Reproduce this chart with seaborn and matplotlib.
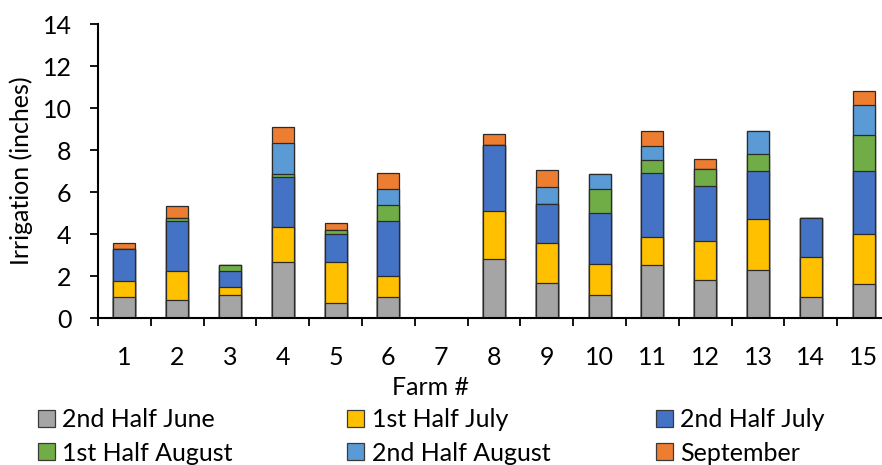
import numpy as np
import pandas as pd
import matplotlib
matplotlib.use("Agg")
import matplotlib.pyplot as plt
from matplotlib.patches import Patch
from matplotlib.ticker import FixedLocator
import seaborn as sns

# Irrigation applied per farm, by period (inches)
farms = [str(i) for i in range(1, 16)]
june_2nd = [1.00, 0.84, 1.11, 2.67, 0.70, 0.98, 0, 2.79, 1.65, 1.08, 2.52, 1.83, 2.29, 1.02, 1.63]
july_1st = [0.78, 1.40, 0.35, 1.68, 1.95, 1.04, 0, 2.32, 1.91, 1.49, 1.32, 1.82, 2.41, 1.87, 2.35]
july_2nd = [1.49, 2.39, 0.78, 2.35, 1.33, 2.58, 0, 3.11, 1.88, 2.41, 3.05, 2.64, 2.30, 1.86, 3.02]
aug_1st = [0, 0.15, 0.30, 0.16, 0.19, 0.80, 0, 0, 0, 1.16, 0.62, 0.79, 0.81, 0, 1.73]
aug_2nd = [0, 0, 0, 1.46, 0, 0.74, 0, 0, 0.80, 0.73, 0.70, 0, 1.11, 0, 1.41]
september = [0.29, 0.55, 0, 0.76, 0.34, 0.76, 0, 0.56, 0.79, 0, 0.69, 0.51, 0, 0, 0.65]

periods = ["2nd Half June", "1st Half July", "2nd Half July",
           "1st Half August", "2nd Half August", "September"]
colors = ["#A5A5A5", "#FFC000", "#4472C4", "#70AD47", "#5B9BD5", "#ED7D31"]
y_ticks = [0, 2, 4, 6, 8, 10, 12, 14]

df = pd.DataFrame(
    {p: v for p, v in zip(periods, [june_2nd, july_1st, july_2nd, aug_1st, aug_2nd, september])},
    index=farms,
)
cum = df.cumsum(axis=1)

sns.set_theme(style="white")
plt.rcParams["font.family"] = ["Lato", "DejaVu Sans"]
plt.rcParams["text.color"] = "black"
FS = 18

fig = plt.figure(figsize=(8.82, 4.65), dpi=100)
ax = fig.add_axes([98 / 882, 147 / 465, 792 / 882, 294 / 465])

# stacked bars: draw cumulative totals from the top layer down
for period, color in reversed(list(zip(periods, colors))):
    sns.barplot(x=farms, y=cum[period].values, order=farms, color=color,
                saturation=1, width=0.42, edgecolor="#2b2b2b", linewidth=0.9,
                errorbar=None, ax=ax)

ax.set_xlim(-0.5, len(farms) - 0.5)
ax.set_ylim(0, 14)
ax.set_yticks(y_ticks)
ax.set_yticklabels([str(t) for t in y_ticks])

for side in ["top", "right"]:
    ax.spines[side].set_visible(False)
for side in ["left", "bottom"]:
    ax.spines[side].set_color("black")
    ax.spines[side].set_linewidth(1.5)

ax.xaxis.set_minor_locator(FixedLocator(np.arange(-0.5, len(farms), 1.0)))
ax.tick_params(axis="x", which="major", length=0, pad=20, labelsize=FS, labelcolor="black")
ax.tick_params(axis="x", which="minor", bottom=True, length=6, width=1.3, color="black", direction="out")
ax.tick_params(axis="y", which="major", left=True, length=6, width=1.3, color="black",
               direction="out", pad=13, labelsize=FS, labelcolor="black")

ax.set_xlabel("Farm #", fontsize=FS, color="black")
ax.xaxis.set_label_coords((430 - 98) / 792, -(376 - 318) / 294)
ax.set_ylabel("Irrigation (inches)", fontsize=FS, color="black")
ax.yaxis.set_label_coords(-(98 - 33) / 792, 0.5)
ax.grid(False)

# legend laid out in three columns of two entries each
handles = [Patch(facecolor=c, edgecolor="#3a3a3a", linewidth=0.9) for c in colors]
col_x = [38, 347, 656]
for j, x0 in enumerate(col_x):
    idx = [j, j + 3]
    fig.legend([handles[i] for i in idx], [periods[i] for i in idx],
               loc="upper left", bbox_to_anchor=(x0 / 882, 1 - 408 / 465),
               frameon=False, fontsize=FS, ncol=1, borderpad=0, borderaxespad=0,
               handlelength=0.66, handleheight=0.66, handletextpad=0.32,
               labelspacing=0.42)

fig.savefig("out.png", dpi=100)
